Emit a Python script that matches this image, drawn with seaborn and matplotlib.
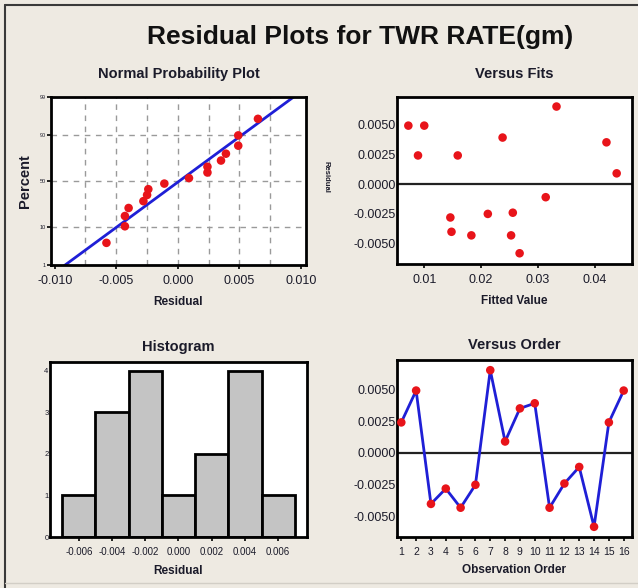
import numpy as np
import matplotlib
matplotlib.use("Agg")
import matplotlib.pyplot as plt
import seaborn as sns
from statistics import NormalDist
from matplotlib.lines import Line2D

# Residuals of the TWR RATE(gm) model, in run order
observation = list(range(1, 17))
residuals = [0.0024, 0.0049, -0.0040, -0.0028, -0.0043, -0.0025, 0.0065, 0.0009,
             0.0035, 0.0039, -0.0043, -0.0024, -0.0011, -0.0058, 0.0024, 0.0049]
fitted = [0.0089, 0.0072, 0.0148, 0.0146, 0.0183, 0.0212, 0.0333, 0.0439,
          0.0421, 0.0238, 0.0253, 0.0256, 0.0314, 0.0268, 0.0159, 0.0100]

prob_ticks = [1, 10, 50, 90, 99]
prob_grid = [10, 50, 90]
npp_xticks = [-0.010, -0.005, 0.000, 0.005, 0.010]
npp_xlabels = ["-0.010", "-0.005", "0.000", "0.005", "0.010"]
res_yticks = [-0.0050, -0.0025, 0.0, 0.0025, 0.0050]
res_ylabels = ["-0.0050", "-0.0025", "0.0000", "0.0025", "0.0050"]
fit_xticks = [0.01, 0.02, 0.03, 0.04]
fit_xlabels = ["0.01", "0.02", "0.03", "0.04"]
hist_edges = [-0.007, -0.005, -0.003, -0.001, 0.001, 0.003, 0.005, 0.007]
hist_xticks = [-0.006, -0.004, -0.002, 0.000, 0.002, 0.004, 0.006]
hist_xlabels = ["-0.006", "-0.004", "-0.002", "0.000", "0.002", "0.004", "0.006"]
hist_yticks = [0, 1, 2, 3, 4]

BG = "#EEEAE2"
RED = "#E8141A"
BLUE = "#1F1FD6"
TXT = "#1B1B2A"
FONTS = ["Liberation Sans", "DejaVu Sans"]

sns.set_theme(style="white")
plt.rcParams["font.family"] = FONTS
plt.rcParams["axes.linewidth"] = 2.0
plt.rcParams["axes.edgecolor"] = "black"

W, H = 638, 588
fig = plt.figure(figsize=(W / 100, H / 100), dpi=100, facecolor=BG)


def box(x0, y0, x1, y1):
    return [x0 / W, 1 - y1 / H, (x1 - x0) / W, (y1 - y0) / H]


def style(ax):
    ax.set_facecolor("white")
    for s in ax.spines.values():
        s.set_linewidth(2.0)
        s.set_color("black")
    ax.tick_params(axis="x", direction="out", length=3, width=1.2,
                   labelsize=9, pad=4, colors="black", labelcolor=TXT, bottom=True)
    ax.tick_params(axis="y", direction="out", length=0, width=1.2,
                   labelsize=9, pad=1, colors="black", labelcolor=TXT, left=True)


def title(ax, text, pad):
    ax.set_title(text, fontsize=10.5, fontweight="bold", color=TXT, pad=pad)


def xlabel(ax, text, pad):
    ax.set_xlabel(text, fontsize=8.5, fontweight="bold", color=TXT, labelpad=pad)


# ---- Normal probability plot ----
ax1 = fig.add_axes(box(51, 97, 306, 265))
style(ax1)
nd = NormalDist()
srt = np.sort(residuals)
n = len(srt)
z_pts = [nd.inv_cdf((i - 0.3) / (n + 0.4)) for i in range(1, n + 1)]
mu, sd = float(np.mean(residuals)), float(np.std(residuals, ddof=1))
xl = np.array([-0.012, 0.012])
sns.lineplot(x=xl, y=(xl - mu) / sd, ax=ax1, color=BLUE, linewidth=2, zorder=2)
sns.scatterplot(x=srt, y=z_pts, ax=ax1, color=RED, s=38, edgecolor="none", zorder=3)
for v in np.arange(-0.0075, 0.0076, 0.0025):
    ax1.axvline(v, color="#9A9A9A", linestyle=(0, (4, 4)), linewidth=1, zorder=0)
for p in prob_grid:
    ax1.axhline(nd.inv_cdf(p / 100), color="#9A9A9A", linestyle=(0, (4, 4)),
                linewidth=1, zorder=0)
ax1.set_xlim(-0.0103, 0.0104)
ax1.set_ylim(-2.335, 2.27)
ax1.set_xticks(npp_xticks, npp_xlabels)
ax1.set_yticks([nd.inv_cdf(p / 100) for p in prob_ticks], [str(p) for p in prob_ticks])
ax1.tick_params(axis="y", labelsize=4, length=3)
title(ax1, "Normal Probability Plot", 14)
xlabel(ax1, "Residual", 7)
ax1.set_ylabel("Percent", fontsize=10.5, fontweight="bold", color=TXT, labelpad=5)

# ---- Versus fits ----
ax2 = fig.add_axes(box(397, 97, 632, 264))
style(ax2)
ax2.axhline(0, color="#222222", linewidth=1.6, zorder=1)
sns.scatterplot(x=fitted, y=residuals, ax=ax2, color=RED, s=38, edgecolor="none", zorder=3)
ax2.set_xlim(0.0052, 0.0466)
ax2.set_ylim(-0.0067, 0.0073)
ax2.set_xticks(fit_xticks, fit_xlabels)
ax2.set_yticks(res_yticks, res_ylabels)
title(ax2, "Versus Fits", 14)
xlabel(ax2, "Fitted Value", 7)
ax2.set_ylabel("")
fig.text(326 / W, 1 - 177 / H, "Residual", rotation=270, fontsize=5.5,
         fontweight="bold", color=TXT, ha="center", va="center")

# ---- Histogram ----
ax3 = fig.add_axes(box(50, 362, 307, 537))
style(ax3)
sns.histplot(x=residuals, bins=hist_edges, ax=ax3, color="#C4C4C4", alpha=1,
             edgecolor="black", linewidth=2)
ax3.set_xlim(-0.00774, 0.00774)
ax3.set_ylim(0, 4.21)
ax3.set_xticks(hist_xticks, hist_xlabels)
ax3.set_yticks(hist_yticks, [str(v) for v in hist_yticks])
ax3.tick_params(axis="x", labelsize=7)
ax3.tick_params(axis="y", labelsize=5.5)
title(ax3, "Histogram", 8)
xlabel(ax3, "Residual", 6)
ax3.set_ylabel("")

# ---- Versus order ----
ax4 = fig.add_axes(box(397, 360, 632, 537))
style(ax4)
ax4.axhline(0, color="#222222", linewidth=1.6, zorder=1)
sns.lineplot(x=observation, y=residuals, ax=ax4, color=BLUE, linewidth=2, zorder=2)
sns.scatterplot(x=observation, y=residuals, ax=ax4, color=RED, s=38, edgecolor="none", zorder=3)
ax4.set_xlim(0.71, 16.56)
ax4.set_ylim(-0.0066, 0.0073)
ax4.set_xticks(observation, [str(v) for v in observation])
ax4.set_yticks(res_yticks, res_ylabels)
ax4.tick_params(axis="x", labelsize=7.5)
title(ax4, "Versus Order", 8)
xlabel(ax4, "Observation Order", 5)
ax4.set_ylabel("")

fig.text(360 / W, 1 - 37 / H, "Residual Plots for TWR RATE(gm)", fontsize=19,
         fontweight="bold", color="#111111", ha="center", va="center")

# window frame
fig.add_artist(Line2D([5 / W, 5 / W], [0, 1 - 5 / H], transform=fig.transFigure,
                      color="#3A3A3A", linewidth=1.5))
fig.add_artist(Line2D([5 / W, 1], [1 - 5 / H, 1 - 5 / H], transform=fig.transFigure,
                      color="#3A3A3A", linewidth=1.5))
fig.add_artist(Line2D([5 / W, 1], [1 - 583 / H, 1 - 583 / H], transform=fig.transFigure,
                      color="#D2CEC6", linewidth=1.0))

fig.savefig("out.png", dpi=100, facecolor=BG)
